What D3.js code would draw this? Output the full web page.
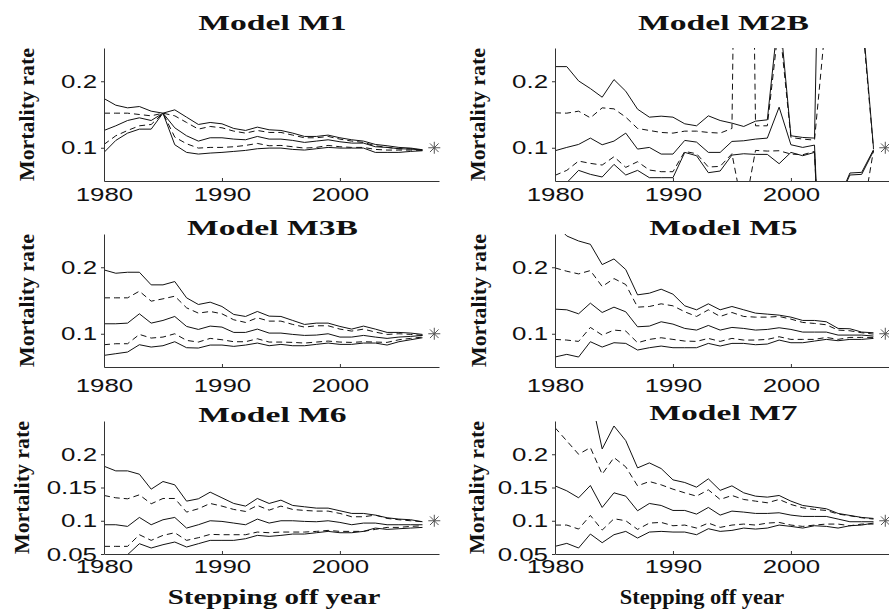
<!DOCTYPE html>
<html>
<head>
<meta charset="utf-8">
<script src="https://cdn.jsdelivr.net/npm/d3@7"></script>
<style>
  body { margin: 0; background: #fff; }
</style>
</head>
<body>
<svg id="fig" width="889" height="613"></svg>
<script>
// stepping off years
const years = [1980, 1981, 1982, 1983, 1984, 1985, 1986, 1987, 1988, 1989,
  1990, 1991, 1992, 1993, 1994, 1995, 1996, 1997, 1998, 1999,
  2000, 2001, 2002, 2003, 2004, 2005, 2006, 2007];

// Model M1: outer band, inner band, median
const m1Upper  = [0.174,0.164,0.160,0.162,0.155,0.152,0.157,0.146,0.135,0.138,0.136,0.129,0.126,0.131,0.127,0.126,0.122,0.117,0.117,0.119,0.115,0.112,0.110,0.105,0.103,0.1005,0.0995,0.097];
const m1UpperQ = [0.152,0.152,0.152,0.150,0.148,0.152,0.148,0.138,0.128,0.132,0.130,0.125,0.122,0.126,0.123,0.123,0.119,0.115,0.115,0.117,0.113,0.110,0.108,0.103,0.1005,0.0985,0.0985,0.0965];
const m1Median = [0.126,0.133,0.141,0.145,0.141,0.152,0.130,0.118,0.110,0.115,0.115,0.113,0.112,0.117,0.113,0.113,0.111,0.108,0.110,0.112,0.109,0.107,0.107,0.1015,0.1005,0.0985,0.098,0.0965];
const m1LowerQ = [0.105,0.118,0.126,0.133,0.135,0.152,0.116,0.106,0.0995,0.1005,0.1005,0.1015,0.1035,0.1065,0.103,0.1035,0.1015,0.0995,0.1005,0.1035,0.1015,0.1005,0.1005,0.0975,0.0965,0.0965,0.0965,0.096];
const m1Lower  = [0.093,0.111,0.122,0.128,0.128,0.152,0.1045,0.093,0.0905,0.092,0.093,0.0945,0.096,0.0985,0.0995,0.0995,0.0975,0.0965,0.0985,0.1005,0.0995,0.0995,0.0995,0.093,0.093,0.093,0.0945,0.0955];

// Model M2B (some values run far off the plotted range)
const m2Upper  = [0.222,0.222,0.2005,0.189,0.176,0.2025,0.185,0.158,0.146,0.1475,0.146,0.136,0.133,0.148,0.141,0.137,0.132,0.140,0.142,0.31,0.118,0.1155,0.1145,1.0,1.0,1.0,0.31,0.100];
const m2UpperQ = [0.1525,0.152,0.155,0.145,0.160,0.1585,0.146,0.129,0.126,0.123,0.122,0.125,0.125,0.123,0.122,0.129,1.5,0.133,0.133,0.29,0.1155,0.113,0.1115,0.30,0.6,0.6,0.30,0.098];
const m2Median = [0.0955,0.1005,0.105,0.1145,0.1045,0.110,0.122,0.098,0.1005,0.0905,0.0905,0.111,0.1085,0.093,0.093,0.1095,0.1105,0.113,0.1145,0.161,0.1045,0.1005,0.104,-0.3,0.02,0.062,0.063,0.097];
const m2LowerQ = [0.0585,0.066,0.080,0.0765,0.074,0.0865,0.0705,0.079,0.0665,0.064,0.064,0.0945,0.091,0.071,0.072,0.091,0.0,0.096,0.095,0.0955,0.0905,0.0895,0.0945,-0.3,-0.3,-0.3,-0.01,0.096];
const m2Lower  = [0.035,0.0475,0.066,0.060,0.056,0.075,0.059,0.066,0.055,0.055,0.055,0.093,0.088,0.0625,0.065,0.089,0.091,0.090,0.090,0.076,0.093,0.088,0.093,-0.3,0.02,0.059,0.060,0.095];

// Model M3B
const m3Upper  = [0.196,0.191,0.1925,0.1925,0.1735,0.1735,0.1785,0.154,0.144,0.1475,0.141,0.129,0.126,0.1335,0.1265,0.126,0.120,0.114,0.116,0.116,0.111,0.107,0.1115,0.107,0.102,0.102,0.101,0.099];
const m3UpperQ = [0.154,0.154,0.154,0.164,0.149,0.1525,0.1565,0.139,0.131,0.1335,0.130,0.121,0.117,0.124,0.119,0.119,0.114,0.110,0.112,0.112,0.107,0.104,0.107,0.1025,0.099,0.100,0.099,0.0975];
const m3Median = [0.115,0.115,0.116,0.130,0.116,0.120,0.126,0.111,0.1065,0.1115,0.110,0.102,0.102,0.107,0.101,0.101,0.099,0.0975,0.098,0.100,0.095,0.095,0.0975,0.095,0.093,0.095,0.096,0.0975];
const m3LowerQ = [0.0835,0.085,0.085,0.099,0.0935,0.095,0.100,0.090,0.0875,0.093,0.091,0.088,0.088,0.0925,0.0875,0.0875,0.087,0.086,0.0875,0.089,0.0875,0.087,0.088,0.0875,0.087,0.091,0.093,0.095];
const m3Lower  = [0.0675,0.070,0.0725,0.0835,0.080,0.082,0.088,0.079,0.0785,0.083,0.083,0.081,0.083,0.086,0.082,0.084,0.082,0.082,0.084,0.086,0.084,0.084,0.086,0.086,0.083,0.088,0.091,0.094];

// Model M5
const m5Upper  = [0.265,0.247,0.2395,0.2345,0.204,0.2125,0.1965,0.1585,0.161,0.167,0.1595,0.142,0.136,0.145,0.136,0.141,0.136,0.131,0.1295,0.128,0.125,0.120,0.120,0.118,0.108,0.1075,0.1025,0.1015];
const m5UpperQ = [0.199,0.194,0.190,0.195,0.171,0.183,0.174,0.140,0.141,0.145,0.142,0.133,0.126,0.136,0.126,0.132,0.126,0.125,0.125,0.126,0.122,0.117,0.1155,0.1135,0.1055,0.1045,0.1015,0.0995];
const m5Median = [0.137,0.136,0.130,0.146,0.132,0.140,0.133,0.1105,0.1115,0.118,0.1145,0.108,0.1055,0.1125,0.1055,0.1095,0.108,0.1055,0.1065,0.109,0.1065,0.1025,0.1025,0.1025,0.098,0.098,0.098,0.0965];
const m5LowerQ = [0.0915,0.0905,0.0885,0.1095,0.098,0.1055,0.104,0.0865,0.0915,0.094,0.0915,0.089,0.0885,0.093,0.0885,0.093,0.0905,0.0905,0.0915,0.0955,0.0915,0.0915,0.0915,0.0945,0.0915,0.0945,0.0945,0.0945];
const m5Lower  = [0.065,0.069,0.065,0.088,0.080,0.0865,0.0855,0.0755,0.079,0.0815,0.079,0.079,0.079,0.0855,0.0815,0.0855,0.0855,0.0835,0.0845,0.0905,0.0865,0.0865,0.089,0.0915,0.0895,0.0915,0.0915,0.093];

// Model M6
const m6Upper  = [0.182,0.175,0.175,0.170,0.1475,0.159,0.154,0.1295,0.133,0.143,0.1345,0.126,0.122,0.1335,0.126,0.131,0.123,0.121,0.119,0.119,0.115,0.111,0.111,0.1085,0.1045,0.1025,0.1015,0.0985];
const m6UpperQ = [0.138,0.1345,0.133,0.139,0.1255,0.1335,0.1335,0.113,0.118,0.126,0.122,0.117,0.114,0.123,0.116,0.122,0.117,0.1155,0.1145,0.1145,0.111,0.106,0.106,0.1085,0.1035,0.1015,0.100,0.0985];
const m6Median = [0.094,0.094,0.0915,0.105,0.094,0.1015,0.105,0.089,0.094,0.100,0.099,0.0965,0.094,0.1025,0.0965,0.100,0.100,0.099,0.0985,0.100,0.0975,0.094,0.0965,0.0965,0.094,0.094,0.094,0.094];
const m6LowerQ = [0.0615,0.0615,0.0615,0.079,0.0705,0.078,0.082,0.0705,0.0745,0.0795,0.079,0.079,0.079,0.083,0.082,0.083,0.083,0.083,0.084,0.0855,0.084,0.084,0.084,0.087,0.090,0.090,0.0915,0.0925];
const m6Lower  = [0.035,0.040,0.049,0.0655,0.059,0.064,0.068,0.0605,0.0655,0.0705,0.0705,0.0705,0.073,0.078,0.0765,0.078,0.080,0.080,0.082,0.084,0.082,0.082,0.084,0.089,0.087,0.088,0.089,0.090];

// Model M7
const m7Upper  = [0.33,0.32,0.30,0.29,0.208,0.2425,0.2205,0.1795,0.187,0.1785,0.1615,0.1575,0.1505,0.163,0.1457,0.1525,0.142,0.137,0.1355,0.138,0.1295,0.123,0.1205,0.118,0.111,0.108,0.105,0.1035];
const m7UpperQ = [0.240,0.220,0.200,0.210,0.170,0.195,0.181,0.1525,0.159,0.154,0.1475,0.142,0.137,0.1465,0.132,0.138,0.132,0.1295,0.127,0.132,0.1245,0.1195,0.117,0.1155,0.110,0.1075,0.1045,0.1025];
const m7Median = [0.1525,0.145,0.1345,0.153,0.120,0.142,0.137,0.115,0.126,0.123,0.1155,0.1155,0.110,0.120,0.1085,0.1145,0.113,0.111,0.111,0.112,0.1085,0.1065,0.1065,0.1065,0.1025,0.0985,0.0985,0.0985];
const m7LowerQ = [0.0935,0.0935,0.0875,0.108,0.086,0.103,0.100,0.087,0.0965,0.0975,0.0925,0.0935,0.089,0.0965,0.090,0.0935,0.095,0.0935,0.0965,0.0975,0.0935,0.0915,0.0935,0.095,0.095,0.0925,0.095,0.095];
const m7Lower  = [0.0615,0.066,0.059,0.080,0.067,0.079,0.084,0.074,0.083,0.084,0.083,0.083,0.079,0.088,0.084,0.0855,0.089,0.0875,0.089,0.0935,0.0915,0.089,0.0925,0.0915,0.089,0.0925,0.0935,0.0965];

const titles = ['Model M1', 'Model M2B', 'Model M3B', 'Model M5', 'Model M6', 'Model M7'];
const xTicks = [1980, 1990, 2000];
const yTicksCoarse = [0.1, 0.2];
const yTicksFine = [0.05, 0.1, 0.15, 0.2];
const observedYear = 2008;
const observedRate = 0.1;

const series = [
  [m1Upper, m1UpperQ, m1Median, m1LowerQ, m1Lower],
  [m2Upper, m2UpperQ, m2Median, m2LowerQ, m2Lower],
  [m3Upper, m3UpperQ, m3Median, m3LowerQ, m3Lower],
  [m5Upper, m5UpperQ, m5Median, m5LowerQ, m5Lower],
  [m6Upper, m6UpperQ, m6Median, m6LowerQ, m6Lower],
  [m7Upper, m7UpperQ, m7Median, m7LowerQ, m7Lower]
];
const isDashed = [false, true, false, true, false];

// panel placement (trial and error against the reference)
const W = 335, H = 133;
const layout = [
  {x: 104, y: 48,  titleY: 30,  tickDy: 20, labelX: 34, yTicks: yTicksCoarse},
  {x: 555, y: 48,  titleY: 30,  tickDy: 20, labelX: 485, yTicks: yTicksCoarse},
  {x: 104, y: 234, titleY: 235, tickDy: 25, labelX: 34, yTicks: yTicksCoarse},
  {x: 555, y: 234, titleY: 235, tickDy: 25, labelX: 486, yTicks: yTicksCoarse},
  {x: 104, y: 421, titleY: 422, tickDy: 19, labelX: 29, yTicks: yTicksFine, xlab: 1.45},
  {x: 555, y: 421, titleY: 420, tickDy: 19, labelX: 484, yTicks: yTicksFine, xlab: 1.12}
];

const svg = d3.select('#fig');
const sansFont = '"Liberation Sans", Arial, Helvetica, sans-serif';
const serifFont = '"Liberation Serif", "Times New Roman", Times, serif';

// widen a text element the way the reference glyphs are stretched
function stretch(sel, factor) {
  sel.each(function() {
    const len = this.getComputedTextLength();
    d3.select(this).attr('textLength', len * factor).attr('lengthAdjust', 'spacingAndGlyphs');
  });
}

const x = d3.scaleLinear().domain([1980, 2008.4]).range([0, W]);
const y = d3.scaleLinear().domain([0.05, 0.25]).range([H, 0]);

layout.forEach(function(p, i) {
  const g = svg.append('g').attr('transform', `translate(${p.x},${p.y})`);

  g.append('clipPath').attr('id', 'clip' + i)
    .append('rect').attr('x', 0).attr('y', 0).attr('width', W).attr('height', H);

  const line = d3.line()
    .x(function(d, j) { return x(years[j]); })
    .y(function(d) { return y(d); });

  const plot = g.append('g').attr('clip-path', `url(#clip${i})`);
  series[i].forEach(function(s, k) {
    plot.append('path')
      .attr('d', line(s))
      .attr('fill', 'none')
      .attr('stroke', '#111')
      .attr('stroke-width', 1)
      .attr('stroke-dasharray', isDashed[k] ? '6,4' : null);
  });

  // observed rate marker
  const sx = x(observedYear), sy = y(observedRate), r = 6, rd = 4.3;
  g.append('path')
    .attr('d', `M${sx - r},${sy}H${sx + r}M${sx},${sy - r}V${sy + r}` +
      `M${sx - rd},${sy - rd}L${sx + rd},${sy + rd}M${sx - rd},${sy + rd}L${sx + rd},${sy - rd}`)
    .attr('stroke', '#555')
    .attr('stroke-width', 1)
    .attr('fill', 'none');

  // axes
  const xAxis = g.append('g').attr('transform', `translate(0,${H})`)
    .call(d3.axisBottom(x).tickValues(xTicks).tickFormat(d3.format('d')).tickSizeInner(-3).tickSizeOuter(0));
  const yAxis = g.append('g')
    .call(d3.axisLeft(y).tickValues(p.yTicks).tickFormat(d => String(d)).tickSizeInner(3).tickSizeOuter(0));

  [xAxis, yAxis].forEach(function(a) {
    a.select('.domain').attr('stroke', '#333');
    a.selectAll('.tick line').attr('stroke', '#333');
    a.selectAll('text').attr('fill', '#111')
      .style('font-family', sansFont).style('font-size', '19px');
  });
  xAxis.selectAll('text').attr('y', p.tickDy).attr('dy', null);
  yAxis.selectAll('text').attr('x', -7);
  stretch(xAxis.selectAll('text'), 1.36);
  stretch(yAxis.selectAll('text'), 1.36);

  // title
  const title = svg.append('text')
    .attr('x', p.x + W / 2 + 1)
    .attr('y', p.titleY)
    .attr('text-anchor', 'middle')
    .style('font-family', serifFont)
    .style('font-weight', 'bold')
    .style('font-size', '21px')
    .attr('fill', '#111')
    .text(titles[i]);
  stretch(title, 1.6);

  // y label, stretched along its length to span the axis
  svg.append('text')
    .attr('transform', `translate(${p.labelX},${p.y + H / 2}) rotate(-90)`)
    .attr('text-anchor', 'middle')
    .attr('textLength', H)
    .attr('lengthAdjust', 'spacingAndGlyphs')
    .style('font-family', serifFont)
    .style('font-weight', 'bold')
    .style('font-size', '22px')
    .attr('fill', '#111')
    .text('Mortality rate');

  if (p.xlab) {
    const xl = svg.append('text')
      .attr('x', i === 4 ? 274 : 702)
      .attr('y', 604)
      .attr('text-anchor', 'middle')
      .style('font-family', serifFont)
      .style('font-weight', 'bold')
      .style('font-size', '20px')
      .attr('fill', '#111')
      .text('Stepping off year');
    stretch(xl, p.xlab);
  }
});
</script>
</body>
</html>
